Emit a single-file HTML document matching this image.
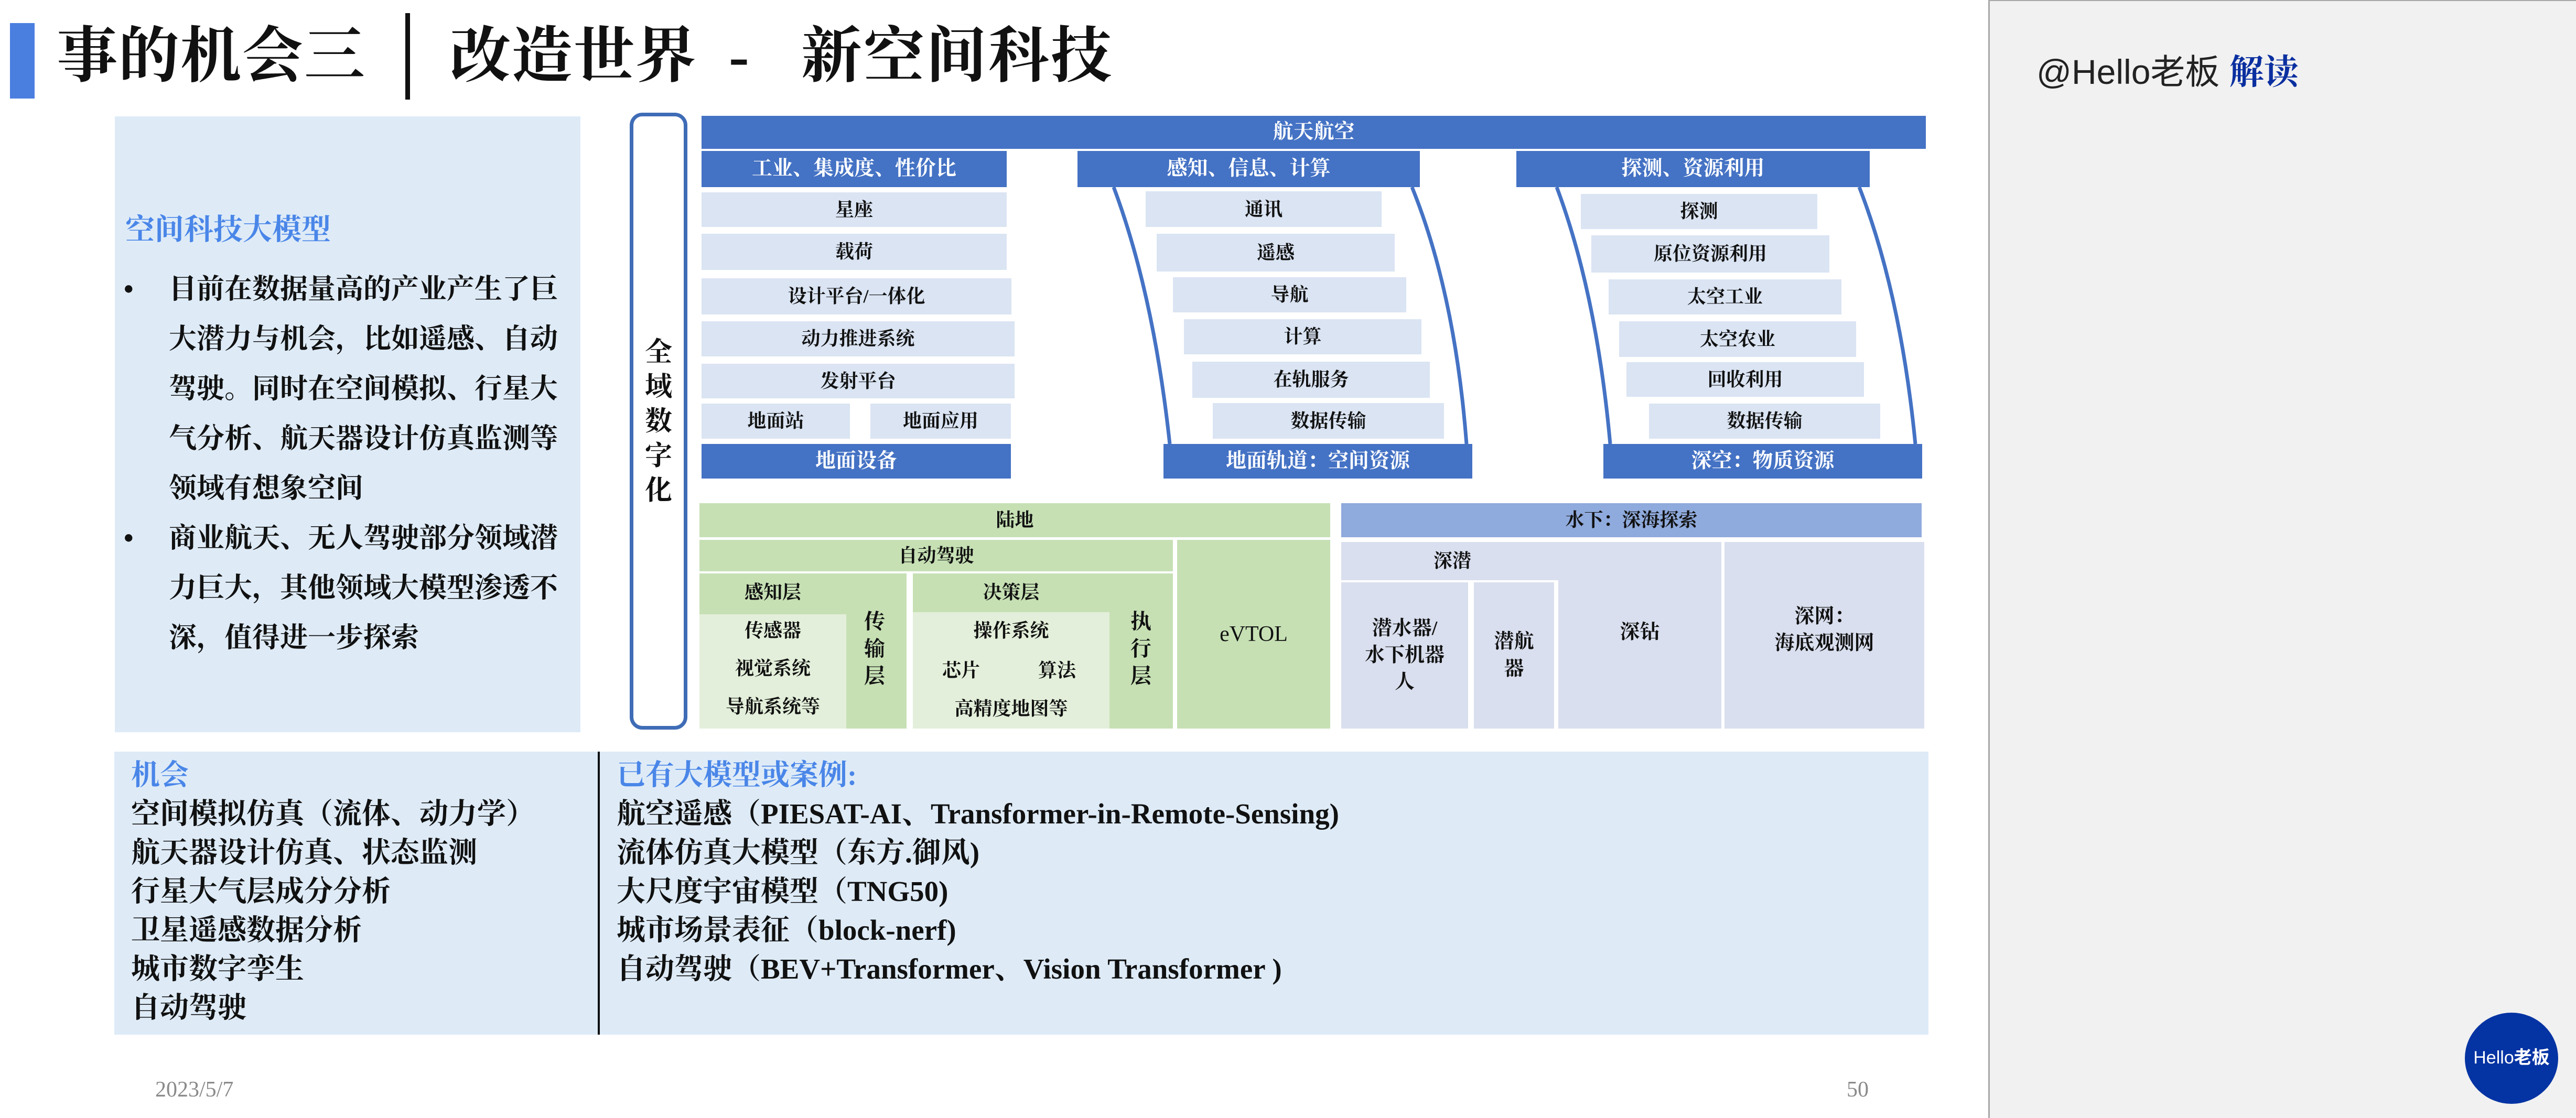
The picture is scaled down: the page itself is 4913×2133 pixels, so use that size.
<!DOCTYPE html>
<html><head><meta charset="utf-8">
<style>
*{margin:0;padding:0;box-sizing:border-box}
body{width:4913px;height:2133px;background:#fff;position:relative;overflow:hidden;font-family:"Liberation Serif","Noto Serif CJK SC","Noto Sans CJK SC",serif;color:#111}
.a{position:absolute}
.b{position:absolute;display:flex;align-items:center;justify-content:center;text-align:center;font-weight:700;font-size:36px;line-height:1.35}
.hd{background:#4472c4;color:#fff;font-size:39px}
.lb{background:#dae4f3}
.g1{background:#c6e0b4}
.g2{background:#e3efda}
.lv{background:#d9dfee}
.t{position:absolute;font-weight:700;white-space:nowrap}
</style></head><body>
<!-- title -->
<div class="a" style="left:19px;top:44px;width:47px;height:144px;background:#4a7fe0"></div>
<div class="t" style="left:108px;top:38px;font-size:116px;line-height:140px;letter-spacing:2px">事的机会三</div>
<div class="a" style="left:773px;top:25px;width:9px;height:165px;background:#111"></div>
<div class="t" style="left:858px;top:38px;font-size:116px;line-height:140px;letter-spacing:2px">改造世界</div>
<div class="t" style="left:1390px;top:38px;font-size:116px;line-height:140px">-</div>
<div class="t" style="left:1528px;top:38px;font-size:116px;line-height:140px;letter-spacing:3px">新空间科技</div>

<!-- right panel -->
<div class="a" style="left:3792px;top:0;width:1121px;height:2133px;background:#f1f1f1;border-left:3px solid #a8a8a8;border-top:2px solid #a8a8a8"></div>
<div class="a" style="left:3884px;top:92px;font-family:'Liberation Sans','Noto Sans CJK SC',sans-serif;font-size:66px;line-height:80px;color:#222;white-space:nowrap">@Hello老板 <b style="color:#0a2fa0;font-family:'Noto Serif CJK SC',serif">解读</b></div>
<div class="b" style="left:4701px;top:1932px;width:178px;height:174px;border-radius:50%;background:#0433a3;color:#fff;font-family:'Liberation Sans','Noto Sans CJK SC',sans-serif;font-size:34px;font-weight:400">Hello<b>老板</b></div>

<!-- left text box -->
<div class="a" style="left:219px;top:222px;width:888px;height:1175px;background:#deebf7"></div>
<div class="t" style="left:239px;top:404px;font-size:56px;line-height:70px;color:#4a86e8">空间科技大模型</div>
<div class="a" style="left:236px;top:505px;font-size:53px;line-height:95px;font-weight:700;width:860px">
<div style="position:relative;padding-left:86px">
<span style="position:absolute;left:0;top:0">•</span>目前在数据量高的产业产生了巨大潜力与机会，比如遥感、自动驾驶。同时在空间模拟、行星大气分析、航天器设计仿真监测等领域有想象空间</div>
<div style="position:relative;padding-left:86px;margin-top:0">
<span style="position:absolute;left:0;top:0">•</span>商业航天、无人驾驶部分领域潜力巨大，其他领域大模型渗透不深，值得进一步探索</div>
</div>

<!-- 全域数字化 -->
<div class="a" style="left:1201px;top:215px;width:110px;height:1177px;border:7px solid #3f6cb6;border-radius:24px"></div>
<div class="a" style="left:1201px;top:640px;width:110px;text-align:center;font-size:52px;line-height:66px;font-weight:700">全<br>域<br>数<br>字<br>化</div>

<!-- top aerospace -->
<div class="b hd" style="left:1338px;top:221px;width:2335px;height:63px">航天航空</div>
<div class="b hd" style="left:1338px;top:288px;width:582px;height:69px">工业、集成度、性价比</div>
<div class="b hd" style="left:2055px;top:288px;width:653px;height:69px">感知、信息、计算</div>
<div class="b hd" style="left:2892px;top:288px;width:674px;height:69px">探测、资源利用</div>

<div class="b lb" style="left:1338px;top:367px;width:582px;height:66px">星座</div>
<div class="b lb" style="left:1338px;top:446px;width:582px;height:69px">载荷</div>
<div class="b lb" style="left:1338px;top:531px;width:591px;height:69px">设计平台/一体化</div>
<div class="b lb" style="left:1338px;top:613px;width:597px;height:67px">动力推进系统</div>
<div class="b lb" style="left:1338px;top:694px;width:597px;height:66px">发射平台</div>
<div class="b lb" style="left:1338px;top:770px;width:283px;height:67px">地面站</div>
<div class="b lb" style="left:1660px;top:770px;width:268px;height:67px">地面应用</div>
<div class="b hd" style="left:1338px;top:847px;width:590px;height:66px">地面设备</div>

<div class="b lb" style="left:2185px;top:365px;width:450px;height:68px">通讯</div>
<div class="b lb" style="left:2206px;top:446px;width:454px;height:72px">遥感</div>
<div class="b lb" style="left:2237px;top:529px;width:445px;height:67px">导航</div>
<div class="b lb" style="left:2258px;top:609px;width:453px;height:67px">计算</div>
<div class="b lb" style="left:2274px;top:690px;width:453px;height:69px">在轨服务</div>
<div class="b lb" style="left:2313px;top:769px;width:441px;height:68px">数据传输</div>
<div class="b hd" style="left:2219px;top:847px;width:589px;height:66px">地面轨道：空间资源</div>

<div class="b lb" style="left:3015px;top:370px;width:451px;height:67px">探测</div>
<div class="b lb" style="left:3035px;top:449px;width:454px;height:71px">原位资源利用</div>
<div class="b lb" style="left:3068px;top:533px;width:444px;height:67px">太空工业</div>
<div class="b lb" style="left:3088px;top:613px;width:452px;height:68px">太空农业</div>
<div class="b lb" style="left:3102px;top:691px;width:453px;height:66px">回收利用</div>
<div class="b lb" style="left:3145px;top:770px;width:441px;height:67px">数据传输</div>
<div class="b hd" style="left:3058px;top:847px;width:608px;height:66px">深空：物质资源</div>

<svg class="a" style="left:0;top:0" width="4913" height="2133">
<g fill="none" stroke="#4472c4" stroke-width="7">
<path d="M2124 357 Q2200 560 2231 847"/>
<path d="M2693 357 Q2775 560 2797 847"/>
<path d="M2969 357 Q3045 560 3071 847"/>
<path d="M3546 357 Q3625 560 3653 847"/>
</g></svg>

<!-- land -->
<div class="b g1" style="left:1334px;top:960px;width:1203px;height:65px">陆地</div>
<div class="b g1" style="left:1334px;top:1030px;width:903px;height:60px">自动驾驶</div>
<div class="b g1" style="left:2245px;top:1030px;width:292px;height:360px;font-size:42px;font-weight:400">eVTOL</div>
<div class="a g1" style="left:1334px;top:1094px;width:395px;height:296px"></div>
<div class="b" style="left:1334px;top:1100px;width:280px;height:60px">感知层</div>
<div class="a g2" style="left:1334px;top:1172px;width:280px;height:218px"></div>
<div class="b" style="left:1334px;top:1178px;width:280px;height:50px">传感器</div>
<div class="b" style="left:1334px;top:1250px;width:280px;height:50px">视觉系统</div>
<div class="b" style="left:1334px;top:1323px;width:280px;height:50px">导航系统等</div>
<div class="a" style="left:1620px;top:1160px;width:96px;text-align:center;font-size:40px;line-height:52px;font-weight:700">传<br>输<br>层</div>
<div class="a g1" style="left:1741px;top:1094px;width:496px;height:296px"></div>
<div class="b" style="left:1741px;top:1100px;width:375px;height:60px">决策层</div>
<div class="a g2" style="left:1741px;top:1168px;width:375px;height:222px"></div>
<div class="b" style="left:1741px;top:1178px;width:375px;height:50px">操作系统</div>
<div class="b" style="left:1783px;top:1254px;width:100px;height:50px">芯片</div>
<div class="b" style="left:1966px;top:1254px;width:100px;height:50px">算法</div>
<div class="b" style="left:1741px;top:1327px;width:375px;height:50px">高精度地图等</div>
<div class="a" style="left:2128px;top:1160px;width:96px;text-align:center;font-size:40px;line-height:52px;font-weight:700">执<br>行<br>层</div>

<!-- water -->
<div class="b" style="left:2558px;top:960px;width:1107px;height:65px;background:#8faadc">水下：深海探索</div>
<div class="a lv" style="left:2558px;top:1034px;width:422px;height:73px"></div>
<div class="b" style="left:2700px;top:1040px;width:140px;height:60px">深潜</div>
<div class="b lv" style="left:2558px;top:1111px;width:242px;height:279px;font-size:38px">潜水器/<br>水下机器<br>人</div>
<div class="b lv" style="left:2811px;top:1111px;width:153px;height:279px;font-size:38px">潜航<br>器</div>
<div class="b lv" style="left:2972px;top:1034px;width:311px;height:356px;font-size:38px;padding-bottom:10px">深钻</div>
<div class="b lv" style="left:3289px;top:1034px;width:381px;height:356px;font-size:38px;padding-bottom:20px">深网：<br>海底观测网</div>

<!-- bottom panel -->
<div class="a" style="left:218px;top:1434px;width:3460px;height:540px;background:#deebf7"></div>
<div class="a" style="left:1140px;top:1434px;width:4px;height:540px;background:#111"></div>
<div class="a" style="left:250px;top:1442px;font-size:55px;line-height:74px;font-weight:700;white-space:nowrap">
<div style="color:#4a86e8">机会</div>
<div>空间模拟仿真（流体、动力学）</div>
<div>航天器设计仿真、状态监测</div>
<div>行星大气层成分分析</div>
<div>卫星遥感数据分析</div>
<div>城市数字孪生</div>
<div>自动驾驶</div>
</div>
<div class="a" style="left:1176px;top:1442px;font-size:55px;line-height:74px;font-weight:700;white-space:nowrap">
<div style="color:#4a86e8">已有大模型或案例:</div>
<div>航空遥感（PIESAT-AI、Transformer-in-Remote-Sensing)</div>
<div>流体仿真大模型（东方.御风)</div>
<div>大尺度宇宙模型（TNG50)</div>
<div>城市场景表征（block-nerf)</div>
<div>自动驾驶（BEV+Transformer、Vision Transformer )</div>
</div>

<div class="a" style="left:296px;top:2055px;font-size:42px;color:#8a8a8a">2023/5/7</div>
<div class="a" style="left:3522px;top:2055px;font-size:42px;color:#8a8a8a">50</div>
</body></html>
